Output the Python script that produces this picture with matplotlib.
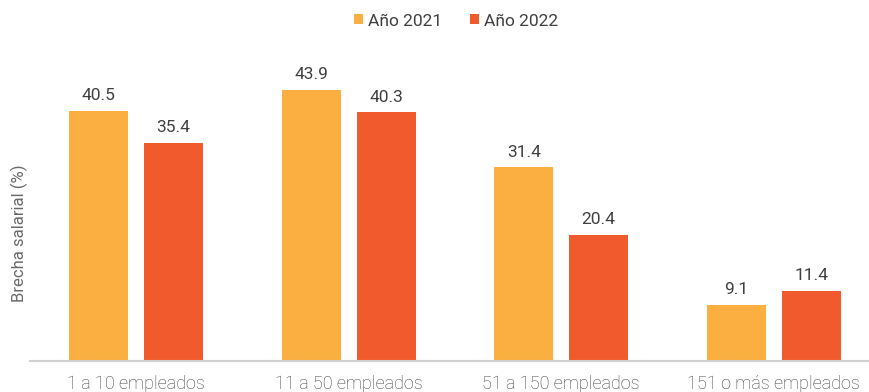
import matplotlib
matplotlib.use("Agg")
import matplotlib.pyplot as plt
import numpy as np

categories = ["1 a 10 empleados", "11 a 50 empleados", "51 a 150 empleados", "151 o más empleados"]
series_names = ["Año 2021", "Año 2022"]
values_2021 = [40.5, 43.9, 31.4, 9.1]
values_2022 = [35.4, 40.3, 20.4, 11.4]
colors = ["#FAAF40", "#F15A2C"]

plt.rcParams['font.family'] = ['Roboto', 'DejaVu Sans']

W, H = 870, 392
fig = plt.figure(figsize=(W / 100, H / 100), dpi=100)
ax = fig.add_axes([30 / W, 1 - 361 / H, 850 / W, 308.6 / H])

x = np.arange(len(categories))
bw = 0.278
off = 0.176
for vals, o, c, name in [(values_2021, -off, colors[0], series_names[0]),
                         (values_2022, off, colors[1], series_names[1])]:
    bars = ax.bar(x + o, vals, width=bw, color=c, label=name, zorder=2)
    for b, v in zip(bars, vals):
        ax.annotate(f"{v:.1f}", (b.get_x() + b.get_width() / 2, v),
                    xytext=(0, 5.5), textcoords="offset points",
                    ha="center", va="bottom", fontsize=12.5, color="#404040",
                    fontweight="normal")

ax.set_xlim(-0.5, len(categories) - 0.5)
ax.set_ylim(0, 50)
ax.set_xticks(x)
ax.set_xticklabels(categories, fontsize=13, color="#404040", fontweight="light")
ax.tick_params(axis="x", length=0, pad=10)
ax.set_yticks([])
for s in ["top", "right", "left"]:
    ax.spines[s].set_visible(False)
ax.spines["bottom"].set_color("#D0D0D0")
ax.spines["bottom"].set_linewidth(1.5)

fig.text(19 / W, 1 - 233 / H, "Brecha salarial (%)", rotation=90, ha="center", va="center",
         fontsize=12, color="#6A6A6A", fontweight="normal")

leg = fig.legend(loc="center", bbox_to_anchor=(456 / W, 1 - 21 / H), ncol=2, frameon=False,
                 fontsize=12.5, handlelength=0.5, handleheight=0.5, handletextpad=0.3,
                 columnspacing=1.6)
for t in leg.get_texts():
    t.set_color("#404040")

fig.savefig("out.png", dpi=100)
